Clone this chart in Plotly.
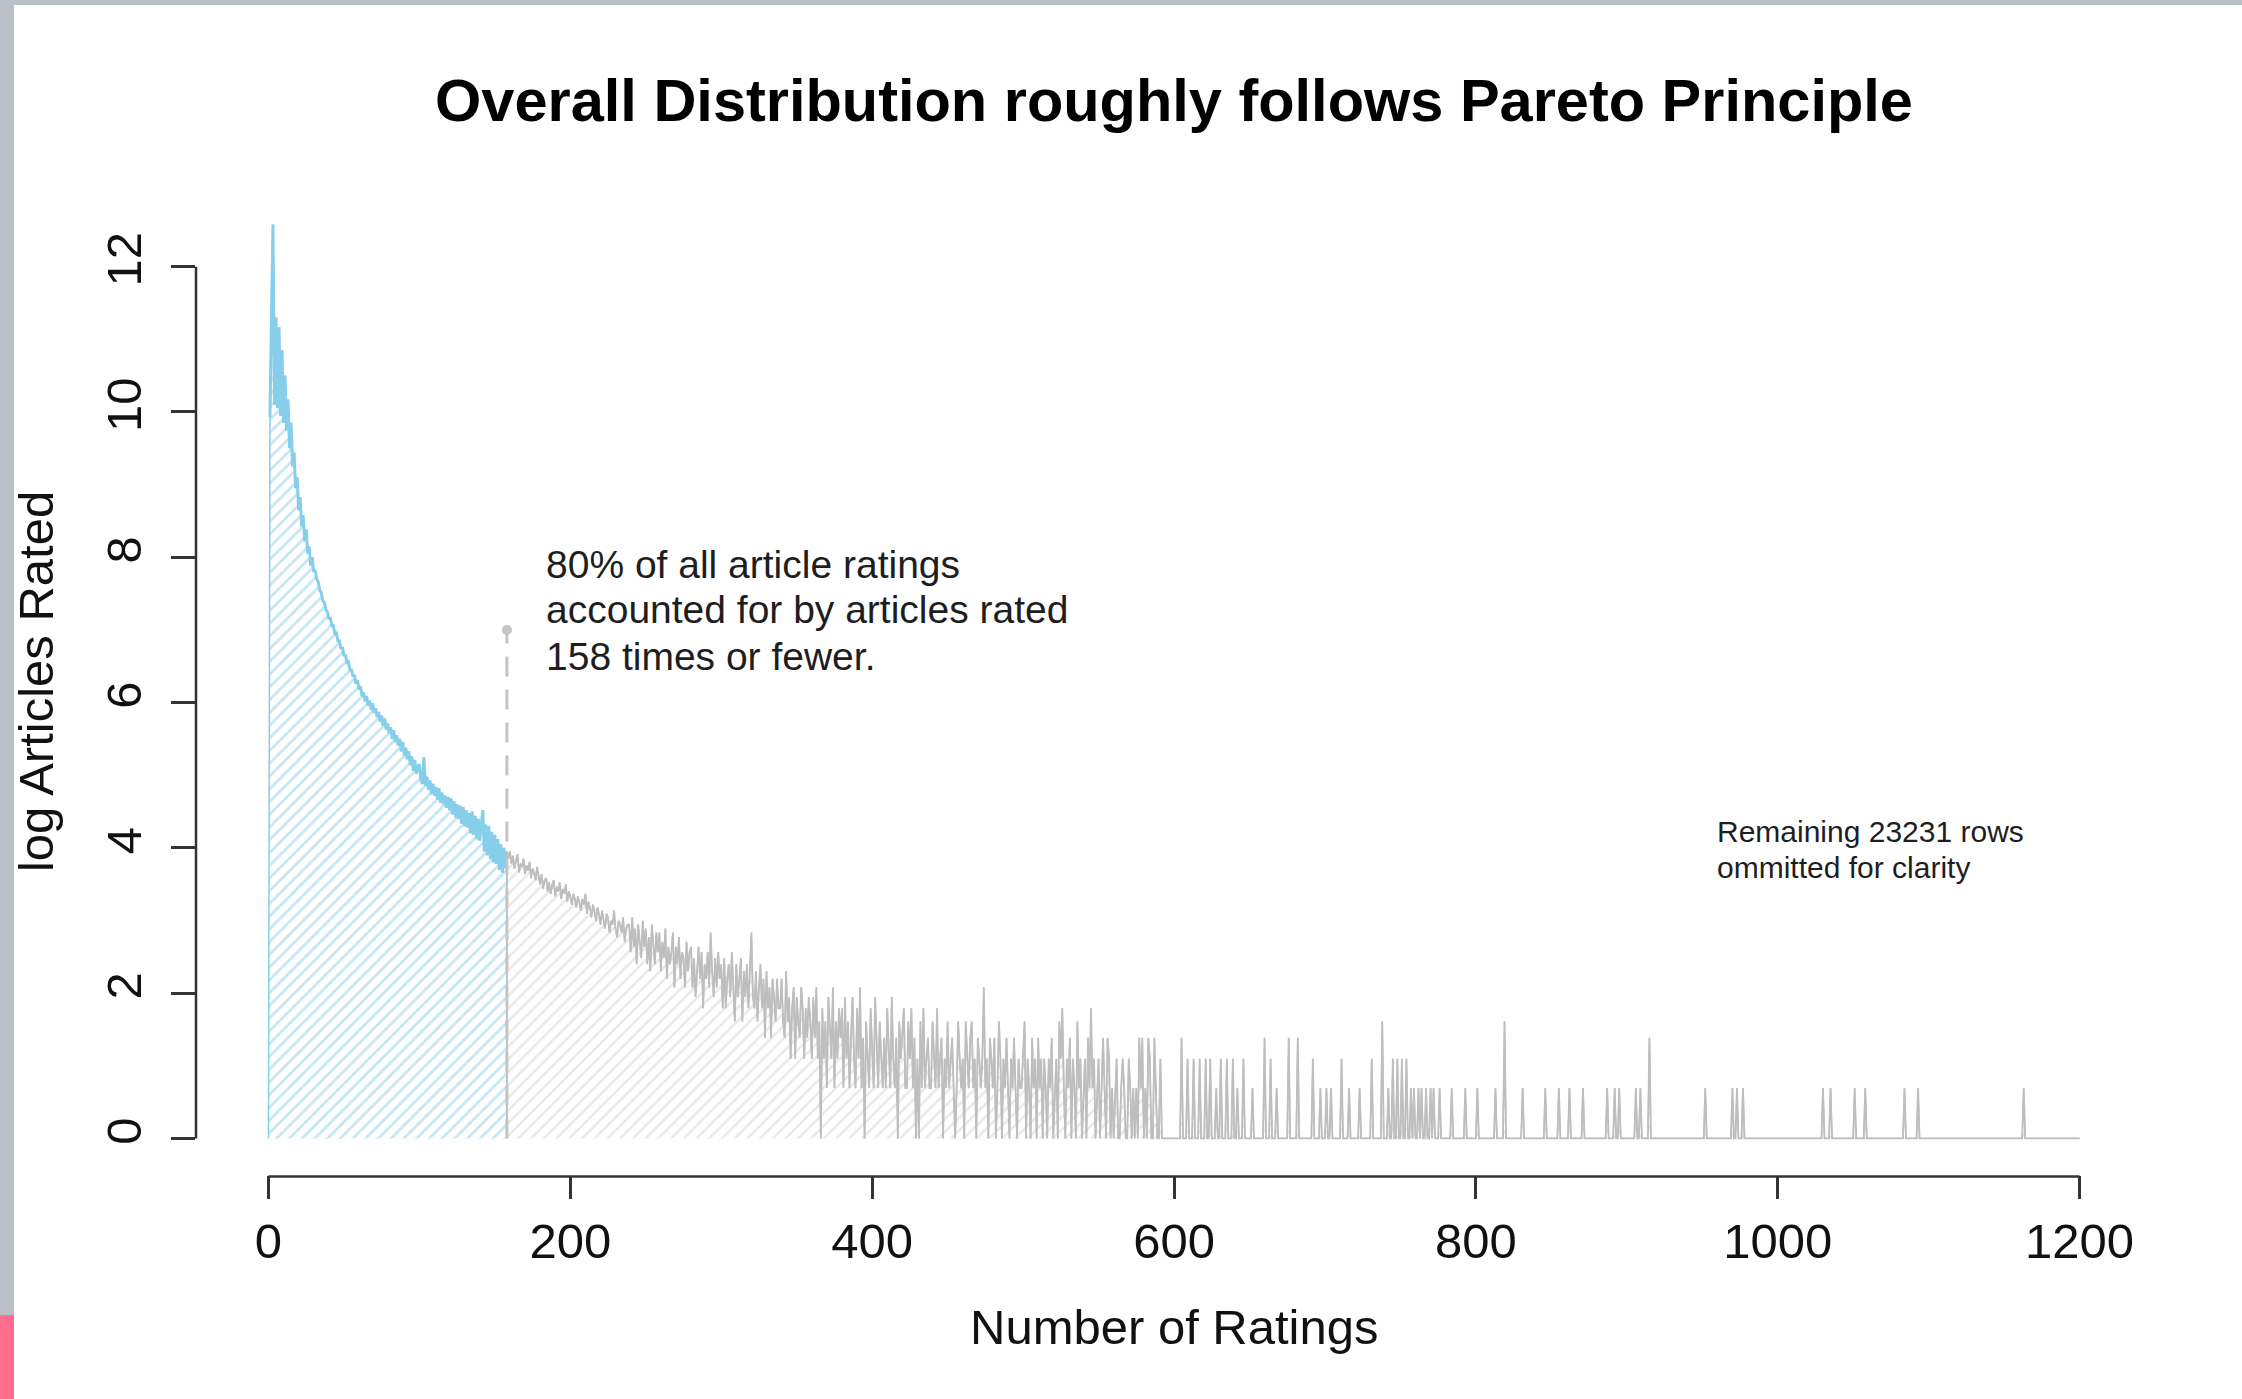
import numpy as np
import plotly.graph_objects as go

# ---------------- data ----------------
# log(number of articles) for articles rated n = 1..158 times (blue part)
head_log = [
    9.93, 11.55, 12.58, 10.10, 11.30, 10.05, 11.17, 9.95, 10.85, 9.85,
    10.50, 9.75, 10.17, 9.50, 9.85, 9.25, 9.44, 8.95, 9.10, 8.65,
    8.83, 8.42, 8.58, 8.22, 8.38, 8.05, 8.15, 7.88, 8.00, 7.80,
    7.82, 7.70, 7.66, 7.55, 7.51, 7.40, 7.38, 7.28, 7.25, 7.16,
    7.16, 7.06, 7.06, 6.95, 6.96, 6.85, 6.85, 6.74, 6.76, 6.64,
    6.66, 6.55, 6.56, 6.44, 6.46, 6.36, 6.38, 6.26, 6.31, 6.18,
    6.22, 6.09, 6.14, 6.02, 6.09, 5.96, 6.03, 5.90, 5.99, 5.86,
    5.92, 5.80, 5.87, 5.74, 5.82, 5.68, 5.78, 5.63, 5.71, 5.58,
    5.66, 5.50, 5.62, 5.46, 5.55, 5.41, 5.50, 5.33, 5.46, 5.27,
    5.38, 5.22, 5.33, 5.14, 5.26, 5.06, 5.21, 5.02, 5.12, 5.15,
    4.94, 4.88, 5.25, 4.86, 4.98, 4.80, 4.93, 4.74, 4.88, 4.72,
    4.84, 4.66, 4.82, 4.62, 4.76, 4.60, 4.72, 4.55, 4.70, 4.52,
    4.68, 4.46, 4.64, 4.42, 4.60, 4.40, 4.58, 4.33, 4.56, 4.30,
    4.52, 4.28, 4.48, 4.20, 4.50, 4.18, 4.44, 4.12, 4.40, 4.10,
    4.35, 4.52, 3.95, 4.32, 3.90, 4.30, 3.85, 4.22, 3.80, 4.18,
    3.78, 4.12, 3.70, 4.05, 3.66, 4.00, 3.72, 3.95,
]

# number of articles rated n = 159..600 times
mid_counts = [
    47, 52, 44, 49, 41, 46, 50, 39, 44, 42, 47, 38, 43, 40, 45, 36, 41, 39, 35, 42,
    37, 33, 38, 31, 35, 36, 30, 34, 29, 33, 35, 28, 32, 30, 34, 27, 31, 29, 33, 26,
    30, 28, 25, 29, 27, 24, 28, 26, 23, 27, 25, 29, 22, 26, 24, 21, 25, 23, 20, 24,
    22, 19, 23, 20, 18, 22, 21, 17, 20, 19, 23, 18, 16, 20, 19, 17, 21, 15, 18, 19,
    19, 13, 21, 14, 18, 11, 19, 15, 12, 20, 14, 18, 11, 16, 10, 19, 14, 11, 17, 13,
    17, 10, 15, 12, 18, 9, 14, 11, 13, 17, 8, 14, 11, 16, 9, 13, 12, 8, 15, 10,
    13, 14, 8, 12, 7, 11, 14, 9, 13, 6, 11, 9, 13, 8, 17, 10, 7, 12, 8, 13,
    9, 11, 6, 12, 6, 9, 11, 7, 13, 8, 5, 11, 7, 9, 12, 5, 10, 7, 11, 6,
    10, 17, 7, 6, 10, 5, 8, 11, 6, 9, 4, 10, 6, 8, 4, 9, 7, 5, 9, 6,
    6, 9, 5, 4, 10, 5, 7, 3, 6, 8, 3, 7, 5, 4, 8, 6, 3, 6, 4, 7,
    5, 3, 7, 4, 8, 3, 5, 1, 6, 3, 5, 2, 7, 4, 3, 8, 2, 5, 3, 6,
    4, 6, 2, 7, 3, 5, 2, 4, 7, 3, 2, 6, 3, 8, 2, 4, 1, 5, 3, 2,
    6, 3, 2, 7, 4, 2, 5, 3, 2, 4, 2, 6, 3, 2, 7, 3, 2, 4, 1, 5,
    3, 4, 6, 2, 2, 5, 3, 6, 2, 4, 1, 3, 1, 5, 2, 6, 2, 3, 4, 2,
    2, 5, 3, 2, 6, 2, 3, 4, 1, 3, 2, 5, 2, 3, 4, 2, 1, 2, 5, 3,
    2, 3, 1, 5, 3, 2, 4, 5, 2, 3, 1, 4, 3, 2, 3, 8, 2, 3, 1, 4,
    3, 2, 4, 1, 2, 5, 3, 1, 3, 2, 4, 2, 1, 3, 2, 4, 2, 1, 3, 2,
    2, 3, 5, 1, 3, 2, 1, 4, 2, 3, 1, 4, 2, 3, 1, 3, 2, 1, 3, 2, 4, 1,
    2, 3, 1, 5, 3, 6, 2, 1, 3, 2, 4, 1, 3, 2, 1, 5, 2, 3, 1, 2,
    3, 1, 4, 2, 6, 2, 3, 1, 2, 3, 1, 2, 4, 2, 1, 4, 3, 1, 2, 1,
    2, 3, 1, 1, 2, 3, 2, 1, 1, 3, 2, 1, 2, 1, 2, 1, 4, 2, 4, 1,
    2, 1, 4, 3, 1, 1, 4, 2, 1, 1, 3, 1, 1, 1, 1, 1, 1, 1, 1, 1,
]

# n = 601..1200: every listed n has the given count, all other n have 1 article
tail_counts = {
    605: 4, 609: 3, 613: 3, 617: 3, 621: 3, 624: 3, 628: 2, 631: 3, 635: 3,
    639: 3, 642: 2, 646: 3, 652: 2, 660: 4, 664: 3, 668: 2, 676: 4, 682: 4,
    692: 3, 697: 2, 701: 2, 704: 2, 711: 3, 716: 2, 723: 2, 731: 3, 738: 5,
    742: 2, 745: 3, 748: 3, 751: 3, 754: 3, 757: 2, 759: 2, 762: 2, 764: 2,
    767: 2, 770: 2, 772: 2, 776: 2, 784: 2, 793: 2, 801: 2, 813: 2, 819: 5,
    831: 2, 846: 2, 855: 2, 862: 2, 871: 2, 887: 2, 892: 2, 895: 2, 906: 2,
    909: 2, 915: 4, 952: 2, 970: 2, 973: 2, 977: 2, 1030: 2, 1035: 2,
    1051: 2, 1058: 2, 1084: 2, 1093: 2, 1163: 2,
}
last_n = 1200
cutoff_n = 158          # 80 % of ratings
marker_level = 7        # top of the dashed marker

x_ticks = [0, 200, 400, 600, 800, 1000, 1200]
y_ticks = [0, 2, 4, 6, 8, 10, 12]

title_text = "Overall Distribution roughly follows Pareto Principle"
x_title = "Number of Ratings"
y_title = "log Articles Rated"
note_lines = ["80% of all article ratings",
              "accounted for by articles rated",
              "158 times or fewer."]
omit_lines = ["Remaining 23231 rows", "ommitted for clarity"]

# ---------------- assemble series ----------------
n_head = list(range(1, len(head_log) + 1))
first_mid = n_head[-1] + 1
n_mid = list(range(first_mid, first_mid + len(mid_counts)))
n_tail = list(range(n_mid[-1] + 1, last_n + 1))
tail_vals = [tail_counts.get(n, 1) for n in n_tail]

n_rest = n_mid + n_tail
y_rest = list(np.log(np.array(mid_counts + tail_vals, dtype=float)))

BLUE = "#87CEEB"
GRAY = "#BEBEBE"
FONT = "Liberation Sans, Arial, Helvetica, sans-serif"

fig = go.Figure()

# hatched polygons
fig.add_trace(go.Scatter(
    x=[0] + n_head + [cutoff_n], y=[0] + head_log + [0],
    mode="lines", fill="toself", fillcolor="rgba(0,0,0,0)",
    fillpattern=dict(shape="/", size=9, solidity=0.3, fgcolor=BLUE,
                     bgcolor="rgba(255,255,255,0)"),
    line=dict(color=BLUE, width=1.5), hoverinfo="skip", showlegend=False))

fig.add_trace(go.Scatter(
    x=[cutoff_n, cutoff_n] + n_rest + [last_n], y=[0, head_log[-1]] + y_rest + [0],
    mode="lines", fill="toself", fillcolor="rgba(0,0,0,0)",
    fillpattern=dict(shape="/", size=9, solidity=0.28, fgcolor="#D2D2D2",
                     bgcolor="rgba(255,255,255,0)"),
    line=dict(color=GRAY, width=1.3), hoverinfo="skip", showlegend=False))

# data lines
fig.add_trace(go.Scatter(x=n_head, y=head_log, mode="lines",
                         line=dict(color=BLUE, width=3), showlegend=False))
fig.add_trace(go.Scatter(x=[cutoff_n] + n_rest, y=[head_log[-1]] + y_rest, mode="lines",
                         line=dict(color=GRAY, width=1.8), showlegend=False))

# dashed marker line and point
fig.add_trace(go.Scatter(x=[cutoff_n, cutoff_n], y=[0, marker_level], mode="lines",
                         line=dict(color="#C4C4C4", width=3, dash="20px,13px"),
                         showlegend=False))
fig.add_trace(go.Scatter(x=[cutoff_n], y=[marker_level], mode="markers",
                         marker=dict(color="#C4C4C4", size=10), showlegend=False))

annotations = []
for txt, yv in zip(note_lines, [7.90, 7.28, 6.63]):
    annotations.append(dict(x=182.5, y=yv, xref="x", yref="y", text=txt,
                            showarrow=False, xanchor="left", yanchor="middle",
                            font=dict(family=FONT, size=39, color="#1e1e1e")))
for txt, yv in zip(omit_lines, [4.23, 3.73]):
    annotations.append(dict(x=958.5, y=yv, xref="x", yref="y", text=txt,
                            showarrow=False, xanchor="left", yanchor="middle",
                            font=dict(family=FONT, size=30, color="#1e1e1e")))
annotations.append(dict(x=0.5, y=-0.154, xref="paper", yref="paper", text=x_title,
                        showarrow=False, xanchor="center", yanchor="middle",
                        font=dict(family=FONT, size=49, color="#111")))
annotations.append(dict(x=-0.082, y=0.500, xref="paper", yref="paper", text=y_title,
                        textangle=-90, showarrow=False, xanchor="center", yanchor="middle",
                        font=dict(family=FONT, size=49, color="#111")))

W, H = 2242, 1399
L, R, T, B = 196, 90, 188, 224
pw, ph = W - L - R, H - T - B

def px_x(p):
    return (p - L) / pw

def px_y(p):
    return (H - B - p) / ph

shapes = [
    # axis lines spanning the tick range only
    dict(type="line", xref="x", yref="paper", x0=x_ticks[0], x1=x_ticks[-1],
         y0=px_y(1176.5), y1=px_y(1176.5), line=dict(color="#333", width=2.5)),
    dict(type="line", xref="paper", yref="y", x0=px_x(196), x1=px_x(196),
         y0=y_ticks[0], y1=y_ticks[-1], line=dict(color="#333", width=2.5)),
    # screenshot frame strips
    dict(type="rect", xref="paper", yref="paper", x0=px_x(0), x1=px_x(14),
         y0=px_y(1315), y1=px_y(0), fillcolor="#B9C0C8", line=dict(width=0), layer="below"),
    dict(type="rect", xref="paper", yref="paper", x0=px_x(0), x1=px_x(14),
         y0=px_y(H), y1=px_y(1315), fillcolor="#FF6E8C", line=dict(width=0), layer="below"),
    dict(type="rect", xref="paper", yref="paper", x0=px_x(0), x1=px_x(W),
         y0=px_y(5), y1=px_y(0), fillcolor="#B9C0C8", line=dict(width=0), layer="below"),
]

fig.update_layout(
    width=W, height=H, margin=dict(l=L, r=R, t=T, b=B, pad=0),
    paper_bgcolor="white", plot_bgcolor="white",
    title=dict(text=title_text, x=0.5, xref="paper", y=1 - 100 / H, yref="container",
               xanchor="center", yanchor="middle",
               font=dict(family=FONT, size=59.5, color="#000", weight="bold")),
    xaxis=dict(range=[-48, 1248], tickvals=x_ticks, ticktext=[str(v) for v in x_ticks],
               ticks="outside", ticklen=23, tickwidth=2.5, tickcolor="#333",
               showline=False, showgrid=False, zeroline=False,
               tickfont=dict(family=FONT, size=49, color="#111")),
    yaxis=dict(range=[-0.503, 13.083], tickvals=y_ticks, ticktext=[str(v) for v in y_ticks],
               ticks="outside", ticklen=24, tickwidth=2.5, tickcolor="#333", tickangle=-90,
               ticklabelstandoff=10,
               showline=False, showgrid=False, zeroline=False,
               tickfont=dict(family=FONT, size=49, color="#111")),
    annotations=annotations, shapes=shapes, showlegend=False,
)

fig.write_html("out.html", config={"displayModeBar": False},
               post_script="document.body.style.margin='0';document.body.style.overflow='hidden';")
